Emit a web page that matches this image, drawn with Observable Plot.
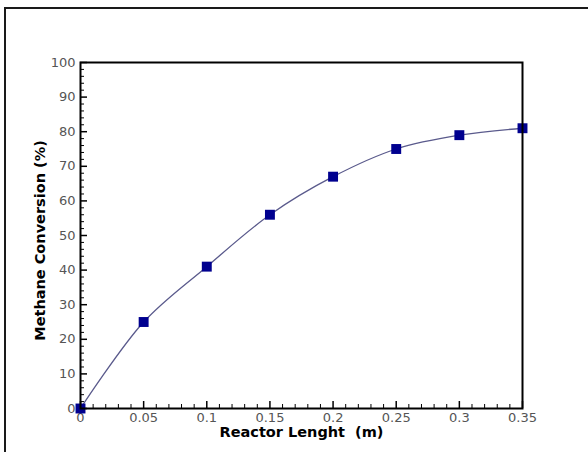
<!DOCTYPE html>
<html><head><meta charset="utf-8">
<script src="https://cdn.jsdelivr.net/npm/d3@7"></script>
<script src="https://cdn.jsdelivr.net/npm/@observablehq/plot@0.6"></script>
<style>
html,body{margin:0;padding:0;background:#fff;}
#wrap{position:relative;width:588px;height:452px;overflow:hidden;background:#fff;}
#border{position:absolute;left:4px;top:7px;right:-10px;bottom:-10px;border-top:2px solid #1a1a1a;border-left:2px solid #1a1a1a;}
#chart{position:absolute;left:0;top:0;}
</style></head><body>
<div id="wrap"><div id="border"></div><div id="chart"></div></div>
<script>
const reactorLength = [0, 0.05, 0.1, 0.15, 0.2, 0.25, 0.3, 0.35];
const methaneConversion = [0, 25, 41, 56, 67, 75, 79, 81];
const xTicks = [0, 0.05, 0.1, 0.15, 0.2, 0.25, 0.3, 0.35];
const xTickLabels = ["0", "0.05", "0.1", "0.15", "0.2", "0.25", "0.3", "0.35"];
const yTicks = [0, 10, 20, 30, 40, 50, 60, 70, 80, 90, 100];
const xMinorTicks = d3.range(0, 36).map(i => i / 100).filter(v => Math.round(v * 100) % 5 !== 0);
const yMinorTicks = d3.range(0, 101, 2).filter(v => v % 10 !== 0);
const xTitle = "Reactor Lenght\u00a0 (m)";
const yTitle = "Methane Conversion (%)";

const data = reactorLength.map((x, i) => ({x, y: methaneConversion[i]}));
const W = 588, H = 452, mL = 80, mR = 66, mT = 62, mB = 44;
const innerH = H - mT - mB, innerW = W - mL - mR;

const chart = Plot.plot({
  width: W, height: H,
  marginLeft: mL, marginRight: mR, marginTop: mT, marginBottom: mB,
  x: {domain: [0, 0.35]},
  y: {domain: [0, 100]},
  style: {fontFamily: "'DejaVu Sans', sans-serif", background: "transparent"},
  marks: [
    Plot.axisX(xTicks, {tickSize: 0, tickPadding: 4, fontSize: 13, fill: "#555",
      tickFormat: d => xTickLabels[xTicks.indexOf(d)], label: null}),
    Plot.axisY(yTicks, {tickSize: 0, tickPadding: 5, fontSize: 13, fill: "#555", label: null}),
    Plot.tickX(xTicks, {x: d => d, insetTop: innerH - 7, stroke: "#000", strokeWidth: 1.5}),
    Plot.tickX(xMinorTicks, {x: d => d, insetTop: innerH - 4, stroke: "#000", strokeWidth: 1}),
    Plot.tickY(yTicks, {y: d => d, insetRight: innerW - 7, stroke: "#000", strokeWidth: 1.5}),
    Plot.tickY(yMinorTicks, {y: d => d, insetRight: innerW - 4, stroke: "#000", strokeWidth: 1}),
    Plot.line(data, {x: "x", y: "y", curve: "catmull-rom", stroke: "#5a5a8c", strokeWidth: 1.3}),
    Plot.dot(data, {x: "x", y: "y", symbol: "square", r: 5.6, fill: "#00008f", stroke: "none"}),
    Plot.frame({stroke: "#000", strokeWidth: 2}),
    Plot.text([xTitle], {frameAnchor: "bottom", dy: 28, fontSize: 14.5, fontWeight: "bold", fill: "#000"}),
    Plot.text([yTitle], {frameAnchor: "left", textAnchor: "middle", lineAnchor: "middle", dx: -40, dy: 5, rotate: -90, fontSize: 14.5, fontWeight: "bold", fill: "#000"})
  ]
});
document.getElementById("chart").appendChild(chart);
</script>
</body></html>
